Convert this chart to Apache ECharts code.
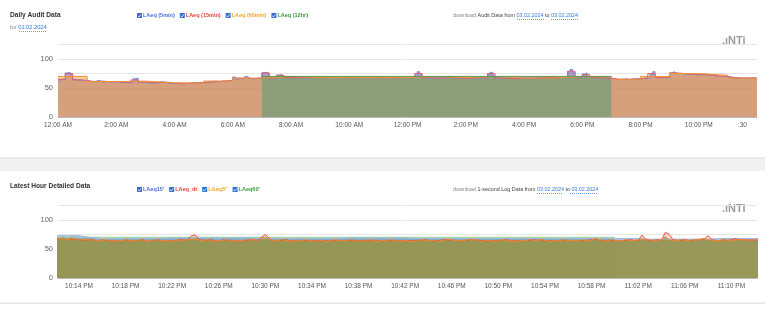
<!DOCTYPE html>
<html><head><meta charset="utf-8">
<script src="https://cdn.jsdelivr.net/npm/echarts@6/dist/echarts.min.js"></script>
<style>html,body{margin:0;padding:0;background:#fff}#c{width:781px;height:315px}</style>
</head><body><div id="c"></div>
<script>
// ---------- Daily Audit Data (hours 0..24) ----------
const topLevels5min = [
 64,65,65,76,77,73,65,64,64,64,63,63,
 62,61,61,62,63,61,60,61,61,60,61,61,
 60,60,59,60,59,59,59,66,67,60,60,59,
 59,59,58,58,59,60,61,60,59,58,58,58,
 58,58,57,58,58,58,59,59,58,59,59,60,
 60,60,61,61,62,61,61,62,62,62,63,63,
 69,65,66,66,66,70,67,66,66,67,67,67,
 76,77,75,68,66,67,72,73,71,68,68,68,
 68,68,69,68,68,67,68,68,69,68,68,68,
 68,68,69,69,69,68,68,68,68,68,69,68,
 68,68,68,67,68,68,68,68,68,68,68,69,
 68,68,68,68,67,67,68,68,68,68,68,68,
 68,68,68,72,78,74,68,68,67,67,67,67,
 67,67,68,68,70,70,68,67,67,67,67,68,
 67,67,67,67,68,68,67,67,67,73,77,72,
 68,67,67,67,67,67,66,66,67,67,67,67,
 67,67,67,67,67,68,68,68,68,68,68,68,
 68,68,68,68,68,68,78,82,77,69,69,68,
 74,76,70,68,68,68,67,67,67,67,67,67,
 66,65,65,65,65,66,65,65,66,66,66,66,
 66,67,67,67,74,78,68,68,68,68,68,68,
 76,78,75,75,75,74,74,74,73,73,73,72,
 73,74,73,72,72,73,71,70,70,70,70,69,
 68,68,67,67,67,67,67,67,67,68,67,67
];
const topLevels15min = [
 65,75,64,63, 61,62,61,61, 60,59,64,60, 59,59,60,58,
 58,58,59,59, 60,61,62,63, 67,67,66,67, 76,67,72,68,
 68,68,68,68, 68,69,68,68, 68,68,68,68, 68,67,68,68,
 68,75,68,67, 67,69,67,67, 67,68,67,75, 67,67,66,67,
 67,67,68,68, 68,68,79,69, 73,68,67,67, 65,65,65,66,
 67,75,68,68, 76,75,74,73, 73,72,70,70, 68,67,67,67
];
const topLevels60min = [70,61,62,59,58,62,67,70,68,68,68,68,70,68,70,67,67,70,69,65,70,75,72,67];
const top12hrStartHours = [7];
const top12hrEndHours = [19];
const topLevels12hr = [70];
const topTickHours = [0,2,4,6,8,10,12,14,16,18,20,22,23.5];
const topTickLabels = ['12:00 AM','2:00 AM','4:00 AM','6:00 AM','8:00 AM','10:00 AM','12:00 PM','2:00 PM','4:00 PM','6:00 PM','8:00 PM','10:00 PM',':30'];

// ---------- Latest Hour Detailed Data (minutes after 22:00) ----------
const bottomLevels5s = [ // every 20 s from 22:12:00
 69,67,68,66,69,67,65,66,67,65,66,64,65,66,64,
 65,63,64,66,65,64,65,66,64,63,65,66,64,65,64,
 63,65,66,64,67,66,68,65,64,66,65,63,64,65,66,
 64,65,63,64,66,65,67,64,69,70,67,65,64,66,65,
 64,63,65,64,66,65,64,63,65,64,63,65,66,64,65,
 64,66,65,63,64,65,66,64,63,65,64,66,65,64,63,
 65,64,63,64,66,65,64,65,63,64,65,67,66,64,65,
 64,66,65,67,64,63,65,64,63,64,66,65,64,63,64,
 65,64,66,65,64,67,65,64,63,65,64,66,64,65,64,
 65,66,64,65,68,66,65,64,66,65,64,65,66,65,64,
 66,67,65,66,64,65,66,71,66,65,64,66,65,64,66,
 65,67,68,66,65,64,65,66,65,64,66,67,65,66,65,
 66,65
];
const bottomLevelsDt = [ // every 20 s from 22:12:00
 68,67,69,65,68,67,66,65,66,66,65,64,66,65,64,
 64,64,63,66,64,65,64,66,65,63,64,66,65,64,65,
 64,64,67,65,66,73,74,66,65,65,66,64,63,66,65,
 65,64,64,63,65,66,66,65,70,75,68,64,65,65,66,
 65,64,64,65,65,64,65,64,64,65,64,64,65,65,64,
 65,65,64,64,65,64,65,65,64,64,65,65,64,65,64,
 64,65,64,65,65,66,65,64,64,65,66,66,65,65,64,
 65,65,66,66,65,64,64,65,64,65,65,66,65,64,65,
 64,65,65,66,65,66,64,65,64,64,65,65,65,64,65,
 64,65,65,66,67,65,64,65,65,64,65,64,65,66,65,
 65,74,66,65,65,66,65,79,75,66,65,65,66,65,65,
 66,66,67,73,66,65,64,66,65,66,68,66,66,65,66,
 65,66
];
const bottomLevels15m = [ // each minute from 22:12
 73,73,73,70,67,68,68,68,68,68,69,69,69,69,69,69,69,69,68,68,68,68,68,68,68,
 69,69,69,69,69,69,68,68,68,68,68,68,68,68,68,68,68,68,68,68,68,68,68,68,68,
 68,67,67,67,67,67,67,68,68,68,68,68
];
const bottom60mStartMin = [0];
const bottom60mEndMin = [60];
const bottomLevels60m = [70.3];
const bottomTickMinutes = [14,18,22,26,30,34,38,42,46,50,54,58,62,66,70];
const bottomTickLabels = ['10:14 PM','10:18 PM','10:22 PM','10:26 PM','10:30 PM','10:34 PM','10:38 PM','10:42 PM','10:46 PM','10:50 PM','10:54 PM','10:58 PM','11:02 PM','11:06 PM','11:10 PM'];
const yLabelValues = [0,50,100];

// ---------- build ----------
function stepData(vals, startX, width, endX){
  const d = vals.map((v,i)=>[startX + i*width, v]);
  d.push([endX, vals[vals.length-1]]);
  return d;
}
const FONT = '"Liberation Sans", Arial, sans-serif';
function ser(name, data, xi, lineColor, fillColor, op, step, lw){
  return {name, type:'line', xAxisIndex:xi, yAxisIndex:xi, data, step: step||false,
    showSymbol:false, symbol:'none', silent:true, animation:false,
    lineStyle:{color:lineColor, width: lw||1}, itemStyle:{color:lineColor},
    areaStyle:{color:fillColor, opacity:op}};
}
const top5 = stepData(topLevels5min, 0, 5/60, 24);
const top15 = stepData(topLevels15min, 0, 0.25, 24);
const top60 = stepData(topLevels60min, 0, 1, 24);
const top12 = [];
topLevels12hr.forEach((v,i)=>{ top12.push([top12hrStartHours[i], v]); top12.push([top12hrEndHours[i], v]); });
const b5 = bottomLevels5s.map((v,i)=>[12 + i/3, v]);
const bdt = bottomLevelsDt.map((v,i)=>[12 + i/3, v]);
const b15 = bottomLevels15m.map((v,i)=>[12 + i, v]);
const b60 = [];
bottomLevels60m.forEach((v,i)=>{ b60.push([bottom60mStartMin[i], v]); b60.push([bottom60mEndMin[i], v]); });

function yAxis(gi){
  return {type:'value', gridIndex:gi, min:0, max:125, interval:25,
    axisLine:{show:false}, axisTick:{show:false},
    axisLabel:{color:'#666', fontSize:7.5, fontFamily:FONT, margin:5,
      formatter:v=> yLabelValues.includes(v) ? String(v) : ''},
    splitLine:{lineStyle:{color:'#e6e6e6', width:1}}};
}
function xAxis(gi, min, max, ticks, labels){
  return {type:'value', gridIndex:gi, min, max,
    axisLine:{show:true, lineStyle:{color:'#b8b8b8'}}, axisTick:{show:false},
    splitLine:{show:false},
    axisLabel:{color:'#555', fontSize:6.5, fontFamily:FONT, margin:5, customValues:ticks,
      formatter:v=>{ const i = ticks.findIndex(t=>Math.abs(t-v)<1e-6); return i>=0 ? labels[i] : ''; }}};
}
const CHECK = 'path://M0,0L10,0L10,10L0,10Z M1.2,5.6L4,8.8L8.9,3.2L8,2.4L4,7.2L2,4.8Z';
function legendItem(name, color){
  return {name, icon:CHECK, textStyle:{color, padding:[0,0,0,-4]}, itemStyle:{color:'#2f6fd0'}};
}
const legendCommon = {itemWidth:5, itemHeight:5, itemGap:5, padding:0,
  textStyle:{fontSize:5.5, fontWeight:'bold', fontFamily:FONT}};

const chart = echarts.init(document.getElementById('c'), null, {renderer:'canvas'});
const txt = (x,y,text,opts)=>({type:'text', x, y, silent:true,
  style:Object.assign({text, fontFamily:FONT, verticalAlign:'middle', fill:'#333'}, opts||{})});
const line = (x1,y1,x2,y2,color,dash,w)=>({type:'line', silent:true, shape:{x1,y1,x2,y2},
  style:{stroke:color, lineWidth:w||1, lineDash:dash||null}});
const rich = {
  g:{fill:'#8a8a8a', color:'#8a8a8a', fontSize:5.4, fontFamily:FONT},
  d:{fill:'#444', color:'#444', fontSize:5.4, fontFamily:FONT},
  b:{fill:'#3a7bd5', color:'#3a7bd5', fontSize:5.4, fontFamily:FONT}
};
const rich2 = {
  g:{fill:'#8a8a8a', color:'#8a8a8a', fontSize:5.7, fontFamily:FONT},
  b:{fill:'#3a7bd5', color:'#3a7bd5', fontSize:5.7, fontFamily:FONT}
};
chart.setOption({
  animation:false,
  backgroundColor:'#fff',
  grid:[
    {left:58, right:24, top:44.5, height:72.5},
    {left:58, right:24, top:205.5, height:72.5}
  ],
  xAxis:[ xAxis(0, 0, 24, topTickHours, topTickLabels),
          xAxis(1, 12.2, 72.2, bottomTickMinutes, bottomTickLabels) ],
  yAxis:[ yAxis(0), yAxis(1) ],
  legend:[
    Object.assign({left:137, top:12.5, data:[
      legendItem('LAeq (5min)','#4a6fd8'), legendItem('LAeq (15min)','#e5413b'),
      legendItem('LAeq (60min)','#f5a231'), legendItem('LAeq (12hr)','#3c9c3c')]}, legendCommon),
    Object.assign({left:137, top:186.5, data:[
      legendItem("LAeq15'",'#4a6fd8'), legendItem('LAeq_dt','#e5413b'),
      legendItem('LAeq5"','#f5a231'), legendItem("LAeq60'",'#3c9c3c')]}, legendCommon)
  ],
  series:[
    ser('LAeq (5min)', top5, 0, '#6c8ce6', 'rgb(65,105,225)', 0.5, 'end'),
    ser('LAeq (15min)', top15, 0, '#e0606a', 'rgb(229,65,59)', 0.2, 'end'),
    ser('LAeq (60min)', top60, 0, '#f09238', 'rgb(247,163,58)', 0.55, 'end'),
    ser('LAeq (12hr)', top12, 0, '#5e9a4e', 'rgb(66,158,120)', 0.5, 'end'),
    ser("LAeq60'", b60, 1, '#9fd09f', 'rgb(90,180,90)', 0.45, 'end'),
    ser("LAeq15'", b15, 1, '#9cb8e0', 'rgb(65,105,225)', 0.4, false),
    ser('LAeq_dt', bdt, 1, '#e8503a', 'rgb(229,65,59)', 0.2, false),
    ser('LAeq5"', b5, 1, '#ee8a2c', 'rgb(150,151,80)', 0.92, false)
  ],
  graphic:[
    {type:'rect', silent:true, shape:{x:0,y:157.5,width:765,height:13.5}, style:{fill:'#f1f1f1'}},
    line(0,158,765,158,'#e0e0e0'),
    {type:'rect', silent:true, shape:{x:0,y:302.5,width:765,height:1.5}, style:{fill:'#e6e6e6'}},
    txt(10,15.5,'Daily Audit Data',{fontSize:6.6, fontWeight:'bold', fill:'#333'}),
    txt(10,27.5,'{g|for }{b|01.02.2024}',{rich:rich2}),
    line(19,31.5,47,31.5,'#6a9ee0',[1,1]),
    txt(453,15.5,'{g|download }{d|Audit Data from }{b|03.02.2024}{d| to }{b|03.02.2024}',{rich}),
    line(517,19.5,544,19.5,'#6a9ee0',[1,1]),
    line(551,19.5,578,19.5,'#6a9ee0',[1,1]),
    txt(722,40.5,'.ıNTi',{fontSize:11, fontWeight:'bold', fill:'#9a9a9a'}),
    txt(10,186,'Latest Hour Detailed Data',{fontSize:6.6, fontWeight:'bold', fill:'#333'}),
    txt(453,189.5,'{g|download }{d|1-second Log Data from }{b|03.02.2024}{d| to }{b|03.02.2024}',{rich}),
    line(537,193.5,563,193.5,'#6a9ee0',[1,1]),
    line(570,193.5,597,193.5,'#6a9ee0',[1,1]),
    txt(722,208.5,'.ıNTi',{fontSize:11, fontWeight:'bold', fill:'#9a9a9a'})
  ]
});
</script></body></html>
